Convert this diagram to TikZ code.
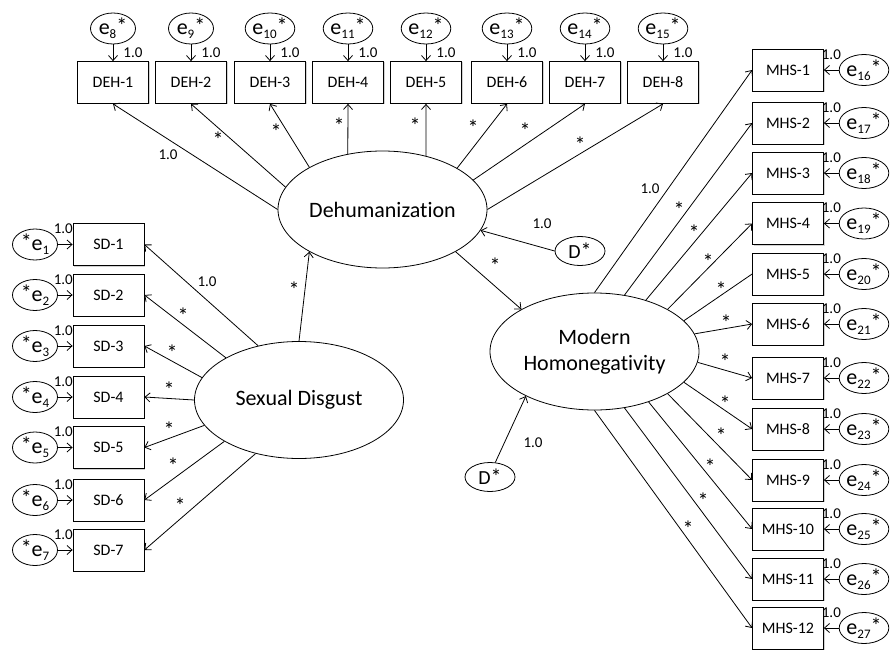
\documentclass[tikz,border=0pt]{standalone}
\usepackage{fontspec}
\setmainfont{Carlito}[Ligatures=NoCommon]
\usepackage{tikz}
\usetikzlibrary{shapes.geometric,arrows.meta,shadows}

\newcommand{\stt}{{\fontsize{22}{22}\selectfont*}}
\newcommand{\eright}[1]{e\raisebox{-.35ex}{\fontsize{13}{13}\selectfont#1}\raisebox{.1ex}{\stt}}
\newcommand{\eleft}[1]{\raisebox{.1ex}{\stt}e\raisebox{-.35ex}{\fontsize{13}{13}\selectfont#1}}

\begin{document}
\begin{tikzpicture}[x=1pt,y=-1pt,line width=.8pt,>={Straight Barb[length=5pt,width=9pt]},
    box/.style={draw,fill=white,minimum width=71,minimum height=42,inner sep=0pt,font=\fontsize{16}{18}\selectfont,
        drop shadow={shadow xshift=1pt,shadow yshift=-1pt,fill=black!35}},
    lat/.style={draw,ellipse,minimum width=209,minimum height=117,inner sep=0pt,align=center,font=\fontsize{22}{26}\selectfont},
    err/.style={draw,ellipse,minimum width=45,minimum height=31,inner sep=0pt,font=\fontsize{22}{24}\selectfont},
    dist/.style={draw,ellipse,minimum width=50,minimum height=29,inner sep=0pt,font=\fontsize{20}{22}\selectfont},
    lbl/.style={inner sep=0pt,font=\fontsize{15}{18}\selectfont}]
    \useasboundingbox (0,0) rectangle (890,650);

    % factors
    \node[lat] (dh) at (382.5,209.5) {Dehumanization};
    \node[lat] (sdg) at (299,400) {Sexual Disgust};
    \node[lat] (mh) at (594.5,351.5) {Modern\\Homonegativity};
    \node[dist] (d1) at (580,251) {D\stt};
    \node[dist] (d2) at (490,477) {D\stt};

    % dehumanization items
    \foreach \i/\x/\a/\lx/\ly/\t in {1/113/180/168/155/1.0, 2/191/167/218/140/\stt, 3/270/150/276/132/\stt,
        4/348/122/339/126/\stt, 5/426/51/415/126/\stt, 6/507/29/473/128/\stt, 7/585/18/525/131/\stt, 8/663/0/580/145/\stt} {
        \pgfmathtruncatemacro\e{\i+7}
        \node[box] (deh\i) at (\x,82.5) {DEH-\i};
        \node[err] (e\e) at (\x,28.5) {\eright{\e}};
        \draw[->] (e\e) -- (deh\i) node[lbl,midway,right=10pt] (w-e\e) {1.0};
        \draw[->] (dh.\a) -- (deh\i.south);
        \node[lbl] (w-deh\i) at (\lx,\ly) {\t};
    }

    % sexual disgust items
    \foreach \i/\y/\a/\lx/\ly/\t in {1/244.5/127/207/282/1.0, 2/295/150/183/316/\stt, 3/346/167/172/353/\stt,
        4/397/180/169/390/\stt, 5/447.5/195/169/430/\stt, 6/500/209/173/466/\stt, 7/550/231/180/506/\stt} {
        \node[box] (sd\i) at (108.5,\y) {SD-\i};
        \node[err] (e\i) at (35,\y) {\eleft{\i}};
        \draw[->] (e\i) -- (sd\i) node[lbl,midway,above=10pt,xshift=-2pt] (w-e\i) {1.0};
        \draw[->] (sdg.\a) -- (sd\i.east);
        \node[lbl] (w-sd\i) at (\lx,\ly) {\t};
    }

    % modern homonegativity items
    \foreach \i/\y/\a/\lx/\ly/\t/\tip in {1/70/90/650/189/1.0/->, 2/123/62/679/210/\stt/->, 3/173/45/694/233/\stt/->,
        4/223.5/30/708/262/\stt/->, 5/274/19/721/290/\stt/-, 6/324/10/726/323/\stt/->, 7/378/-6/725/362/\stt/->,
        8/429/-19/725/404/\stt/->, 9/480/-30/721/436/\stt/->, 10/529/-43/710/467/\stt/->, 11/579/-62/703/501/\stt/->,
        12/628/-90/688/529/\stt/->} {
        \pgfmathtruncatemacro\e{\i+15}
        \node[box] (mhs\i) at (788,\y) {MHS-\i};
        \node[err] (e\e) at (864,\y) {\eright{\e}};
        \draw[->] (e\e) -- (mhs\i) node[lbl,midway,above=10pt] (w-e\e) {1.0};
        \draw[\tip] (mh.\a) -- (mhs\i.west);
        \node[lbl] (w-mhs\i) at (\lx,\ly) {\t};
    }

    % structural paths
    \draw[->] (sdg.north) -- (dh.210);
    \node[lbl] (w-sd-dh) at (294,290) {\stt};
    \draw[->] (dh.330) -- (mh.150);
    \node[lbl] (w-dh-mh) at (495,266) {\stt};
    \draw[->] (d1.west) -- (dh.348);
    \node[lbl] (w-d1) at (542,224) {1.0};
    \draw[->] (d2.70) -- (mh.213);
    \node[lbl] (w-d2) at (533,443) {1.0};
\end{tikzpicture}
\end{document}
